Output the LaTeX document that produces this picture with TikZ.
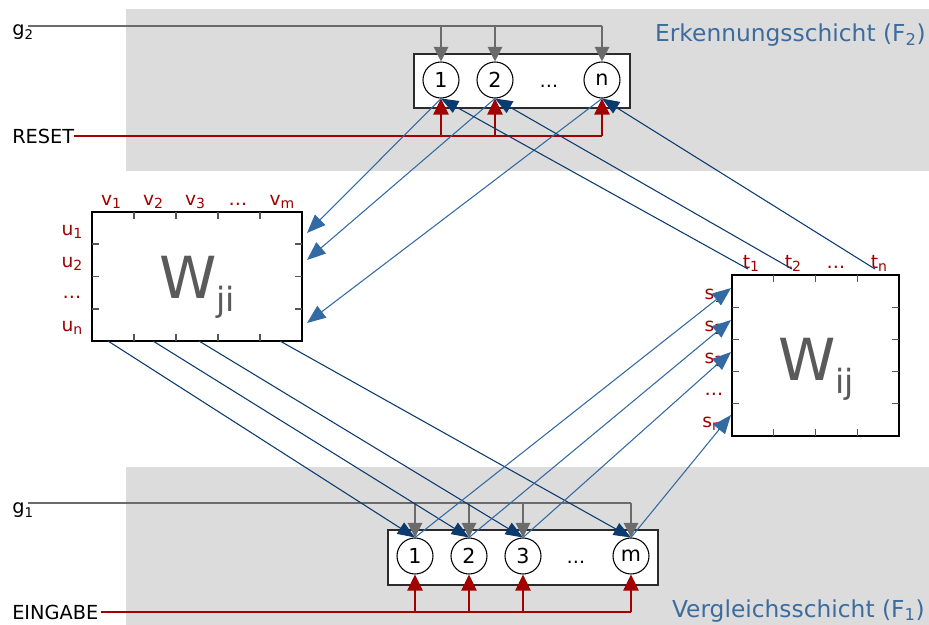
\documentclass[tikz,border=0pt]{standalone}
\usepackage{fontspec}
\setmainfont{DejaVu Sans}
\usepackage{tikz}
\usepackage{xcolor}
\usetikzlibrary{arrows.meta,positioning,calc}
\definecolor{bandgray}{HTML}{DCDCDC}
\definecolor{boxline}{HTML}{2B2B2B}
\definecolor{tickgray}{HTML}{555555}
\definecolor{busgray}{HTML}{6B6B6B}
\definecolor{resetred}{HTML}{A30000}
\definecolor{idxred}{HTML}{A00000}
\definecolor{lightport}{HTML}{336AA3}
\definecolor{darkport}{HTML}{0B3A6E}
\definecolor{layerblue}{HTML}{3C6C9E}
\definecolor{wgray}{HTML}{5A5A5A}
\newcommand{\bigsub}[1]{\raisebox{-10pt}{\fontsize{25}{30}\selectfont #1}}
\newcommand{\ix}[1]{\raisebox{-2.6pt}{\fontsize{10.5}{12}\selectfont #1}}
\newcommand{\gx}[1]{\raisebox{-3pt}{\fontsize{10}{12}\selectfont #1}}
\tikzset{
  band/.style={fill=bandgray,draw=none},
  layerbox/.style={draw=boxline,fill=white,line width=1.1pt},
  weightbox/.style={draw=black,fill=white,line width=0.9pt},
  wtick/.style={draw=tickgray,line width=1pt},
  neuron/.style={circle,draw=black,fill=white,line width=0.8pt,
                 minimum size=27pt,inner sep=0pt,
                 font=\fontsize{15.5}{18}\selectfont},
  dotsnode/.style={inner sep=0pt,font=\fontsize{14}{16}\selectfont},
  sidelabel/.style={inner sep=0pt,font=\fontsize{14.5}{17}\selectfont},
  layerlabel/.style={inner sep=0pt,text=layerblue,
                     font=\fontsize{17.5}{21}\selectfont},
  idxlabel/.style={inner sep=0pt,text=idxred,
                   font=\fontsize{14}{16}\selectfont},
  bigw/.style={inner sep=0pt,text=wgray,font=\fontsize{43.5}{50}\selectfont},
  graybus/.style={draw=busgray,line width=0.9pt},
  redbus/.style={draw=resetred,line width=0.9pt},
  grayarr/.style={-{Triangle[length=11pt,width=11pt]},line width=0.9pt,
                  draw=busgray},
  redarr/.style={-{Triangle[length=12pt,width=11.5pt]},line width=0.9pt,
                 draw=resetred},
  toweight/.style={-{Triangle[length=14pt,width=11pt]},line width=0.8pt,
                   draw=lightport},
  fromweight/.style={-{Triangle[length=13pt,width=10pt]},line width=0.8pt,
                     draw=darkport}
}
\begin{document}
\begin{tikzpicture}[x=0.75pt,y=-0.75pt,>=Stealth]
    \path[use as bounding box] (0,0) rectangle (929,625);
    \fill[band] (126,9) rectangle (929,171);
    \fill[band] (126,467) rectangle (929,625);

    \node[sidelabel,anchor=base west] (g2) at (12,35) {g\gx{2}};
    \node[sidelabel,anchor=base west] (reset) at (12,143) {RESET};
    \node[sidelabel,anchor=base west] (g1) at (12,513) {g\gx{1}};
    \node[sidelabel,anchor=base west] (eingabe) at (12,619) {EINGABE};
    \node[layerlabel,anchor=base east] (f2name) at (926,41)
      {Erkennungsschicht (F\textsubscript{2})};
    \node[layerlabel,anchor=base east] (f1name) at (925,617)
      {Vergleichsschicht (F\textsubscript{1})};
    \coordinate (g2in) at (28,26);
    \coordinate (g1in) at (28,503);

    \draw[layerbox] (414,54) rectangle (630,108);
    \node[neuron] (r1) at (441,80) {1};
    \node[neuron] (r2) at (495,80) {2};
    \node[dotsnode] (rdots) at (549,86) {\dots};
    \node[neuron] (rn) at (602,80) {n};

    \draw[layerbox] (388,530) rectangle (658,585);
    \node[neuron] (c1) at (415,556) {1};
    \node[neuron] (c2) at (469,556) {2};
    \node[neuron] (c3) at (523,556) {3};
    \node[dotsnode] (cdots) at (576,562) {\dots};
    \node[neuron] (cm) at (631,556) {m};

    \draw[weightbox] (92,212) rectangle (302,341);
    \draw[wtick] (134,212) -- ++(0,7) (176,212) -- ++(0,7)
      (218,212) -- ++(0,7) (260,212) -- ++(0,7)
      (134,341) -- ++(0,-7) (176,341) -- ++(0,-7)
      (218,341) -- ++(0,-7) (260,341) -- ++(0,-7)
      (92,244) -- ++(7,0) (92,276.5) -- ++(7,0) (92,309) -- ++(7,0)
      (302,244) -- ++(-7,0) (302,276.5) -- ++(-7,0) (302,309) -- ++(-7,0);
    \node[bigw,anchor=base] (wji) at (197,298) {W\bigsub{ji}};
    \node[idxlabel,anchor=base] (v1) at (111,205) {v\ix{1}};
    \node[idxlabel,anchor=base] (v2) at (153,205) {v\ix{2}};
    \node[idxlabel,anchor=base] (v3) at (195,205) {v\ix{3}};
    \node[idxlabel,anchor=base] (vdots) at (238,205) {\dots};
    \node[idxlabel,anchor=base] (vm) at (282,205) {v\ix{m}};
    \node[idxlabel,anchor=base] (u1) at (72,235) {u\ix{1}};
    \node[idxlabel,anchor=base] (u2) at (72,267) {u\ix{2}};
    \node[idxlabel,anchor=base] (udots) at (72,298) {\dots};
    \node[idxlabel,anchor=base] (un) at (72,331) {u\ix{n}};

    \draw[weightbox] (732,275) rectangle (899,436);
    \draw[wtick] (773.75,275) -- ++(0,7) (815.5,275) -- ++(0,7)
      (857.25,275) -- ++(0,7)
      (773.75,436) -- ++(0,-7) (815.5,436) -- ++(0,-7)
      (857.25,436) -- ++(0,-7)
      (732,307.2) -- ++(7,0) (732,339.4) -- ++(7,0)
      (732,371.6) -- ++(7,0) (732,403.8) -- ++(7,0)
      (899,307.2) -- ++(-7,0) (899,339.4) -- ++(-7,0)
      (899,371.6) -- ++(-7,0) (899,403.8) -- ++(-7,0);
    \node[bigw,anchor=base] (wij) at (816,380) {W\bigsub{ij}};
    \node[idxlabel,anchor=base] (t1) at (751,268) {t\ix{1}};
    \node[idxlabel,anchor=base] (t2) at (793,268) {t\ix{2}};
    \node[idxlabel,anchor=base] (tdots) at (836,268) {\dots};
    \node[idxlabel,anchor=base] (tn) at (879,268) {t\ix{n}};
    \node[idxlabel,anchor=base] (s1) at (714,299) {s\ix{1}};
    \node[idxlabel,anchor=base] (s2) at (714,331) {s\ix{2}};
    \node[idxlabel,anchor=base] (s3) at (714,363) {s\ix{3}};
    \node[idxlabel,anchor=base] (sdots) at (714,395) {\dots};
    \node[idxlabel,anchor=base] (sm) at (714,427) {s\ix{m}};

    \coordinate (u1in) at (307,233);
    \coordinate (u2in) at (307,260);
    \coordinate (unin) at (307,323);
    \coordinate (s1in) at (731,288);
    \coordinate (s2in) at (731,320);
    \coordinate (s3in) at (731,352);
    \coordinate (smin) at (731,415);
    \coordinate (t1out) at (748,269);
    \coordinate (t2out) at (792,269);
    \coordinate (tnout) at (875,269);
    \coordinate (v1out) at (108,341);
    \coordinate (v2out) at (153,341);
    \coordinate (v3out) at (199,341);
    \coordinate (vmout) at (280,341);

    \draw[graybus] (g2in) -- (g2in -| rn.north);
    \draw[grayarr] (g2in -| r1.north) -- (r1.north);
    \draw[grayarr] (g2in -| r2.north) -- (r2.north);
    \draw[grayarr] (g2in -| rn.north) -- (rn.north);
    \draw[redbus] (reset.east) -- (reset.east -| rn.south);
    \draw[redarr] (reset.east -| r1.south) -- (r1.south);
    \draw[redarr] (reset.east -| r2.south) -- (r2.south);
    \draw[redarr] (reset.east -| rn.south) -- (rn.south);

    \draw[graybus] (g1in) -- (g1in -| cm.north);
    \draw[grayarr] (g1in -| c1.north) -- (c1.north);
    \draw[grayarr] (g1in -| c2.north) -- (c2.north);
    \draw[grayarr] (g1in -| c3.north) -- (c3.north);
    \draw[grayarr] (g1in -| cm.north) -- (cm.north);
    \draw[redbus] ([xshift=2]eingabe.east) -- (eingabe.east -| cm.south);
    \draw[redarr] (eingabe.east -| c1.south) -- (c1.south);
    \draw[redarr] (eingabe.east -| c2.south) -- (c2.south);
    \draw[redarr] (eingabe.east -| c3.south) -- (c3.south);
    \draw[redarr] (eingabe.east -| cm.south) -- (cm.south);

    \draw[toweight] (r1.south) -- (u1in);
    \draw[toweight] (r2.south) -- (u2in);
    \draw[toweight] (rn.south) -- (unin);
    \draw[fromweight] (t1out) -- (r1.south);
    \draw[fromweight] (t2out) -- (r2.south);
    \draw[fromweight] (tnout) -- (rn.south);
    \draw[fromweight] (v1out) -- (c1.north);
    \draw[fromweight] (v2out) -- (c2.north);
    \draw[fromweight] (v3out) -- (c3.north);
    \draw[fromweight] (vmout) -- (cm.north);
    \draw[toweight] (c1.north) -- (s1in);
    \draw[toweight] (c2.north) -- (s2in);
    \draw[toweight] (c3.north) -- (s3in);
    \draw[toweight] (cm.north) -- (smin);
  \end{tikzpicture}
\end{document}
